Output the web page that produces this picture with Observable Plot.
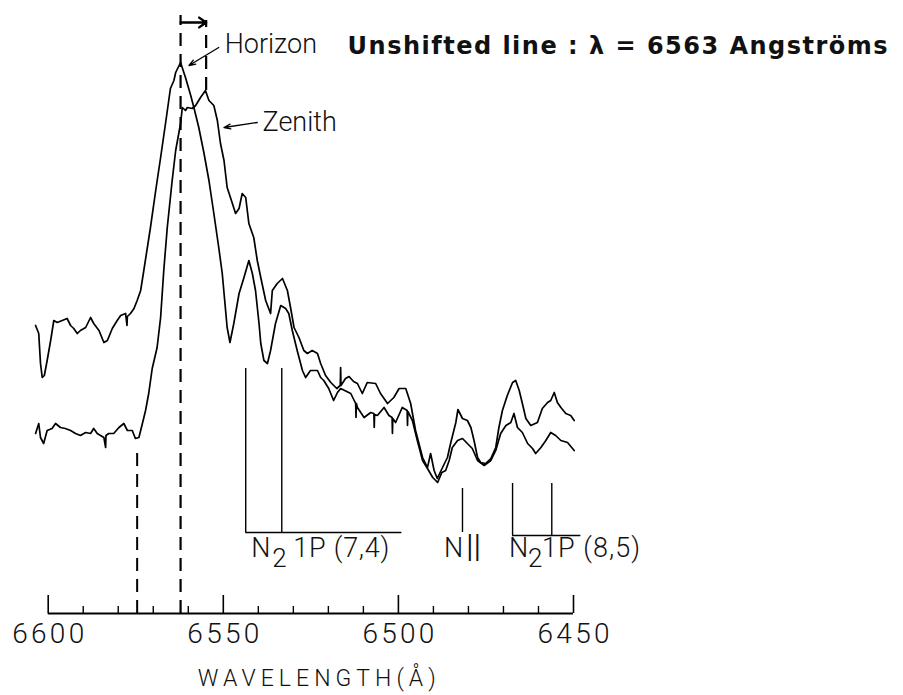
<!DOCTYPE html>
<html><head><meta charset="utf-8">
<script src="https://cdn.jsdelivr.net/npm/d3@7"></script>
<script src="https://cdn.jsdelivr.net/npm/@observablehq/plot@0.6"></script>
<style>body{margin:0;background:#fff}#chart svg{overflow:visible}</style>
</head><body><div id="chart"></div>
<script>
// Wavelength (Å) and relative intensity (arbitrary units)
const horizon = [
[6603.6,288],[6602.7,280],[6602.2,250],[6601.7,236],[6601.1,238],[6600.3,253],[6599.3,273],[6598.4,293],
[6597.4,291],[6596.0,293],[6594.6,295],[6593.6,288],[6592.7,285],[6591.7,280],[6590.8,283],[6589.3,286],
[6587.9,296],[6587.0,290],[6585.5,283],[6584.1,271],[6583.1,273],[6581.7,285],[6580.3,293],[6579.3,298],
[6577.9,300],[6577.5,288],[6577.4,297],[6576.5,300],[6575.5,305],[6574.6,313],[6573.6,323],[6572.7,343],
[6570.8,386],[6569.3,423],[6567.9,456],[6566.5,490],[6565.1,525],[6564.1,533],[6563.6,541],[6562.2,551],
[6560.8,536],[6559.3,518],[6558.4,506],[6557.0,486],[6555.5,460],[6554.1,433],[6552.7,400],[6551.3,366],
[6550.3,340],[6548.9,286],[6548.1,271],[6547.0,290],[6545.5,320],[6544.1,336],[6542.7,353],[6541.7,340],
[6540.8,323],[6539.8,290],[6539.3,270],[6538.4,253],[6537.4,250],[6536.5,263],[6535.1,290],[6533.6,308],
[6532.2,305],[6531.3,300],[6530.3,283],[6528.9,263],[6527.4,243],[6526.5,236],[6525.1,243],[6523.1,243],
[6522.2,236],[6521.3,233],[6519.9,225],[6518.5,213],[6517.4,221],[6516.5,225],[6513.6,220],[6512.2,210],
[6512.1,196],[6512.0,210],[6511.7,206],[6509.8,196],[6507.9,201],[6507.0,200],[6506.9,186],[6506.8,199],
[6506.0,198],[6504.1,206],[6502.7,198],[6501.8,196],[6501.7,180],[6501.6,195],[6500.8,191],[6498.9,206],
[6497.5,203],[6497.4,188],[6497.3,202],[6497.0,200],[6496.0,193],[6494.6,173],[6493.1,153],[6491.7,145],
[6490.2,136],[6488.8,131],[6487.6,141],[6486.5,143],[6485.5,153],[6484.6,166],[6483.1,173],[6481.7,175],
[6480.3,170],[6478.9,165],[6477.4,153],[6475.5,148],[6473.6,153],[6472.2,163],[6470.8,180],[6469.3,188],
[6467.9,191],[6467.0,200],[6466.0,186],[6464.6,181],[6463.1,170],[6461.7,165],[6460.8,160],[6459.3,166],
[6457.9,173],[6456.5,181],[6455.1,178],[6453.6,173],[6451.7,171],[6449.8,163]
];
const zenith = [
[6603.6,180],[6602.7,190],[6602.2,176],[6601.3,170],[6600.3,183],[6598.9,185],[6597.9,190],[6596.5,186],
[6595.1,185],[6593.6,183],[6592.2,180],[6590.8,178],[6589.3,181],[6587.9,180],[6587.0,185],[6586.0,180],
[6584.1,176],[6583.6,166],[6583.5,178],[6582.7,180],[6581.3,180],[6579.8,186],[6578.4,190],[6577.4,183],
[6576.0,183],[6575.1,175],[6574.1,176],[6573.1,190],[6572.2,203],[6571.3,220],[6570.3,245],[6568.9,266],
[6567.9,296],[6567.0,343],[6566.0,386],[6564.6,433],[6563.6,463],[6562.2,490],[6561.7,506],[6560.8,503],
[6560.3,506],[6558.9,505],[6557.9,508],[6556.5,516],[6555.1,523],[6554.1,513],[6552.7,508],[6551.7,493],
[6550.8,470],[6549.8,453],[6548.9,426],[6547.4,410],[6546.5,400],[6545.5,405],[6544.6,420],[6543.6,416],
[6542.7,390],[6541.3,376],[6540.3,353],[6539.3,336],[6537.9,313],[6536.5,300],[6536.0,323],[6534.6,330],
[6533.1,335],[6531.7,323],[6530.8,306],[6529.8,286],[6528.4,276],[6527.0,263],[6526.0,260],[6524.6,263],
[6523.1,260],[6522.2,250],[6520.8,238],[6519.3,231],[6517.6,225],[6516.6,228],[6516.5,246],[6516.4,228],
[6515.1,235],[6514.1,237],[6512.8,232],[6511.7,230],[6510.3,220],[6508.9,231],[6506.5,230],[6505.1,220],
[6503.1,210],[6501.3,216],[6499.8,225],[6497.9,225],[6496.5,210],[6495.1,183],[6493.1,156],[6491.7,146],
[6490.8,160],[6489.8,143],[6488.9,135],[6487.4,146],[6486.0,156],[6485.1,170],[6483.6,191],[6483.0,204],
[6481.7,195],[6480.3,193],[6479.3,186],[6478.4,173],[6477.4,156],[6476.5,151],[6475.1,150],[6473.6,155],
[6472.2,166],[6471.3,186],[6470.3,203],[6468.9,218],[6467.4,231],[6466.5,233],[6465.5,223],[6464.6,210],
[6463.6,195],[6462.2,188],[6460.3,191],[6458.9,205],[6457.4,211],[6456.5,213],[6455.5,221],[6454.6,211],
[6453.6,206],[6452.2,200],[6450.8,198],[6449.8,193]
];
const majorTicks = [6600, 6550, 6500, 6450];
const minorTicks = [6590, 6580, 6570, 6560, 6540, 6530, 6520, 6510, 6490, 6480, 6470, 6460];
const tickLabels = ["6600", "6550", "6500", "6450"];
const unshifted = 6562.2;   // horizon peak (dashed)
const shifted = 6554.9;     // zenith peak (dashed)
const footLine = 6574.6;    // dashed foot marker
const n2Band74 = [6543.6, 6533.3];
const n2Band74End = 6499.0;
const nII = [6481.7];
const n2Band85 = [6467.4, 6456.2];
const n2Band85End = 6447.9;
const titleText = "Unshifted line : \u03bb = 6563 Angstr\u00f6ms";
const xLabel = "WAVELENGTH(\u00c5)";

const thin = "Roboto, Liberation Sans, Arial, sans-serif";
const thinW = 300;
const bold = "DejaVu Sans, sans-serif";

const T = (txt, x, y, opts = {}) => Plot.text([txt], {x, y, text: d => d, textAnchor: "start", fontSize: 27,
  fontFamily: thin, fontWeight: thinW, fill: "#111", ...opts});

const plot = Plot.plot({
  width: 903, height: 695,
  marginLeft: 47.7, marginRight: 330, marginTop: 13, marginBottom: 82,
  style: {background: "#fff", overflow: "visible"},
  x: {domain: [6600, 6450], axis: null},
  y: {domain: [0, 600], axis: null},
  marks: [
    // axis
    Plot.ruleY([0], {x1: 6600, x2: 6450, stroke: "black", strokeWidth: 1.8}),
    Plot.ruleX(majorTicks, {x: d => d, y1: 0, y2: 18, stroke: "black", strokeWidth: 1.6}),
    Plot.ruleX(minorTicks, {x: d => d, y1: 0, y2: 7, stroke: "black", strokeWidth: 1.4}),
    Plot.text(majorTicks, {x: d => d, y: -21, text: (d, i) => tickLabels[i], fontSize: 28, fontFamily: thin, fontWeight: thinW, fill: "#111"}),
    Plot.text([xLabel], {x: 6523.3, y: -65, text: d => d, fontSize: 23, fontFamily: thin, fontWeight: thinW, fill: "#111"}),
    // dashed reference lines
    Plot.ruleX([unshifted], {x: d => d, y1: 0, y2: 598, stroke: "black", strokeWidth: 2.2, strokeDasharray: "13,8"}),
    Plot.ruleX([shifted], {x: d => d, y1: 523, y2: 593, stroke: "black", strokeWidth: 2.2, strokeDasharray: "13,8"}),
    Plot.ruleX([footLine], {x: d => d, y1: 0, y2: 166, stroke: "black", strokeWidth: 2, strokeDasharray: "13,8"}),
    Plot.arrow([0], {x1: unshifted, x2: shifted, y1: 591, y2: 591, stroke: "black", strokeWidth: 2.4, headLength: 11, headAngle: 70}),
    // spectra
    Plot.line(horizon, {x: d => d[0], y: d => d[1], stroke: "black", strokeWidth: 1.7}),
    Plot.line(zenith, {x: d => d[0], y: d => d[1], stroke: "black", strokeWidth: 1.7}),
    // labels with pointers
    Plot.arrow([0], {x1: 6551.3, y1: 566, x2: 6559.8, y2: 548, stroke: "black", strokeWidth: 1.3, headLength: 8, headAngle: 40}),
    T("Horizon", 6549.6, 569),
    Plot.arrow([0], {x1: 6540.3, y1: 491, x2: 6549.8, y2: 486, stroke: "black", strokeWidth: 1.3, headLength: 8, headAngle: 40}),
    T("Zenith", 6538.8, 491),
    Plot.text([titleText], {x: 6514.5, y: 567, text: d => d, textAnchor: "start", fontSize: 24, fontWeight: "bold", fontFamily: bold, fill: "#111"}),
    // band markers
    Plot.ruleX(n2Band74, {x: d => d, y1: 81, y2: 245, stroke: "black", strokeWidth: 1.4}),
    Plot.ruleY([81], {x1: n2Band74[0], x2: n2Band74End, stroke: "black", strokeWidth: 1.4}),
    Plot.ruleX(nII, {x: d => d, y1: 81, y2: 125, stroke: "black", strokeWidth: 1.4}),
    Plot.ruleX(n2Band85, {x: d => d, y1: 78, y2: 130, stroke: "black", strokeWidth: 1.4}),
    Plot.ruleY([78], {x1: n2Band85[0], x2: n2Band85End, stroke: "black", strokeWidth: 1.4}),
    T("N", 6542.0, 65),
    T("2", 6536.0, 55, {fontSize: 26}),
    T("1P (7,4)", 6530.0, 65),
    T("N", 6487.0, 65),
    T("\u2161", 6481.2, 65, {fontFamily: "DejaVu Sans, sans-serif", fontWeight: 200, fontSize: 38}),
    T("N", 6468.4, 65),
    T("2", 6463.0, 55, {fontSize: 26}),
    T("1P (8,5)", 6459.0, 65)
  ]
});

// stretch some texts to the widths seen in the reference
const textWidths = new Map([[titleText, 540], [xLabel, 238], ["1P (7,4)", 96], ["1P (8,5)", 98], ["6600", 72], ["6550", 72], ["6500", 72], ["6450", 72]]);
d3.select(plot).selectAll("text").each(function() {
  const w = textWidths.get(this.textContent);
  if (w) d3.select(this).attr("textLength", w).attr("lengthAdjust", "spacing");
});
document.getElementById("chart").appendChild(plot);
</script>
</body></html>
